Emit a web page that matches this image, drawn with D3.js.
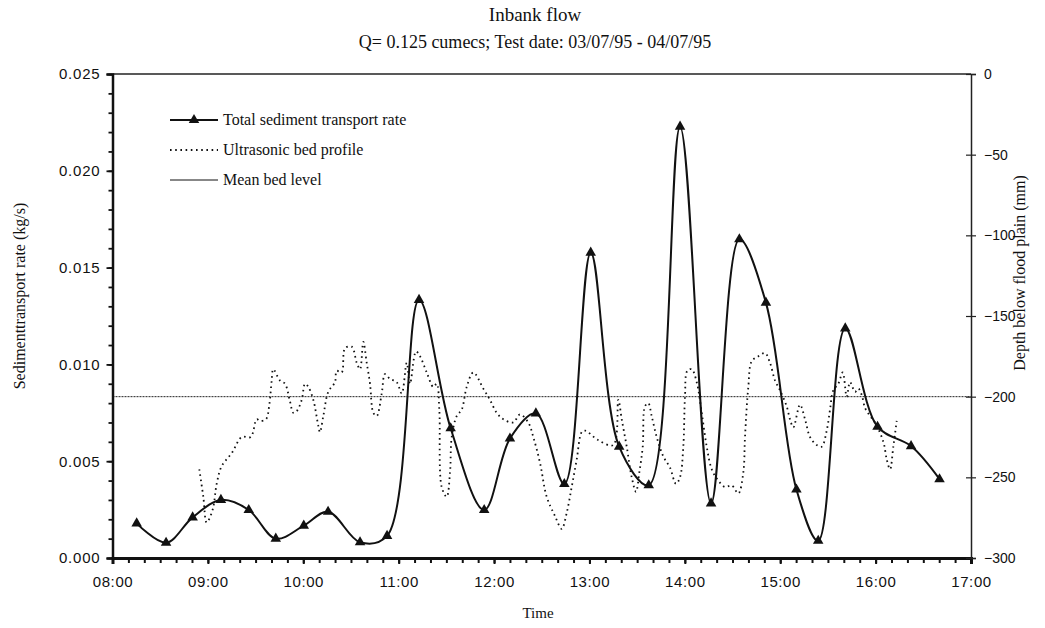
<!DOCTYPE html>
<html>
<head>
<meta charset="utf-8">
<title>Inbank flow</title>
<script src="https://d3js.org/d3.v7.min.js"></script>
<style>
  body { margin: 0; background: #fff; }
  svg text { fill: #111; }
</style>
</head>
<body>
<svg width="1045" height="628"></svg>
<script>
// Total sediment transport rate (kg/s), left axis
var sedTimes = ["08:15:12", "08:33:42", "08:50:24", "09:08:12", "09:25:42", "09:42:42",
                "10:00:18", "10:15:36", "10:35:42", "10:52:42", "11:12:48", "11:32:42",
                "11:53:48", "12:10:00", "12:26:18", "12:44:12", "13:00:48", "13:18:42",
                "13:37:18", "13:57:00", "14:16:30", "14:34:18", "14:51:00", "15:10:12",
                "15:23:54", "15:40:54", "16:01:12", "16:22:18", "16:40:12"];
var sedRate = [0.00179, 0.00079, 0.00210, 0.00300, 0.00248, 0.00100,
               0.00167, 0.00239, 0.00081, 0.00114, 0.01333, 0.00670,
               0.00248, 0.00617, 0.00747, 0.00382, 0.01577, 0.00575,
               0.00376, 0.02228, 0.00282, 0.01646, 0.01319, 0.00354,
               0.00089, 0.01186, 0.00678, 0.00578, 0.00407];

// Ultrasonic bed profile (mm below flood plain), right axis
var bedTimes = ["08:54:36", "08:57:07", "08:59:15", "09:03:01", "09:05:32", "09:08:41",
                "09:15:00", "09:21:18", "09:26:56", "09:30:42", "09:32:47", "09:36:33",
                "09:38:38", "09:40:08", "09:41:08", "09:45:21", "09:48:30", "09:51:39",
                "09:53:44", "09:55:52", "09:59:01", "10:01:06", "10:03:11", "10:06:20",
                "10:09:26", "10:10:30", "10:12:36", "10:15:44", "10:19:57", "10:21:01",
                "10:24:10", "10:26:15", "10:30:28", "10:33:37", "10:35:41", "10:37:46",
                "10:39:54", "10:41:59", "10:44:03", "10:46:11", "10:49:20", "10:51:24",
                "10:54:33", "10:58:46", "11:01:55", "11:05:04", "11:07:08", "11:10:55",
                "11:13:26", "11:17:39", "11:21:48", "11:23:56", "11:25:34", "11:27:04",
                "11:30:13", "11:32:18", "11:33:22", "11:36:31", "11:39:40", "11:42:48",
                "11:46:57", "11:53:14", "11:57:26", "12:01:39", "12:05:48", "12:12:06",
                "12:16:18", "12:21:32", "12:24:41", "12:28:54", "12:33:06", "12:38:20",
                "12:42:33", "12:45:42", "12:48:50", "12:51:59", "12:55:08", "12:57:13",
                "13:05:35", "13:15:01", "13:18:10", "13:20:18", "13:23:27", "13:26:36",
                "13:29:18", "13:31:22", "13:33:31", "13:34:56", "13:37:00", "13:39:09",
                "13:42:18", "13:46:27", "13:50:40", "13:54:26", "13:56:57", "13:59:02",
                "14:00:06", "14:01:33", "14:04:19", "14:07:28", "14:10:37", "14:13:46",
                "14:16:55", "14:21:04", "14:25:17", "14:29:30", "14:33:38", "14:36:47",
                "14:37:51", "14:39:56", "14:42:05", "14:46:14", "14:50:26", "14:53:34",
                "14:56:43", "14:59:52", "15:04:04", "15:06:09", "15:08:14", "15:12:27",
                "15:15:36", "15:18:45", "15:22:57", "15:26:06", "15:29:15", "15:31:20",
                "15:33:24", "15:36:33", "15:39:19", "15:41:50", "15:43:55", "15:47:04",
                "15:49:08", "15:51:17", "15:53:21", "15:56:30", "15:59:39", "16:04:53",
                "16:07:01", "16:09:06", "16:11:08", "16:13:16"];
var bedDepth = [-245, -262, -278, -270, -254, -243,
                -235, -225, -225, -214, -215, -214,
                -205, -190, -183, -190, -192, -203,
                -210, -209, -202, -192, -194, -202,
                -218, -222, -212, -197, -191, -184,
                -185, -170, -169, -179, -183, -166,
                -179, -192, -210, -212, -198, -186,
                -189, -191, -198, -179, -192, -172,
                -175, -185, -194, -192, -208, -256,
                -262, -247, -225, -212, -208, -194,
                -185, -195, -202, -210, -214, -216,
                -211, -216, -225, -241, -262, -274,
                -282, -272, -256, -239, -222, -221,
                -227, -230, -202, -214, -231, -250,
                -259, -247, -231, -206, -204, -212,
                -225, -237, -244, -254, -250, -231,
                -200, -184, -183, -191, -210, -231,
                -245, -252, -256, -255, -260, -247,
                -225, -194, -178, -175, -173, -179,
                -190, -196, -206, -214, -219, -205,
                -214, -225, -230, -231, -221, -208,
                -196, -192, -185, -200, -191, -197,
                -195, -199, -207, -212, -216, -228,
                -239, -245, -231, -215];

var meanBedLevel = -200;

var leftTicks = [0, 0.005, 0.010, 0.015, 0.020, 0.025];
var rightTicks = [0, -50, -100, -150, -200, -250, -300];
var timeTicks = ["08:00:00", "09:00:00", "10:00:00", "11:00:00", "12:00:00",
                 "13:00:00", "14:00:00", "15:00:00", "16:00:00", "17:00:00"];

var legendLabels = ["Total sediment transport rate", "Ultrasonic bed profile", "Mean bed level"];

var parseTime = d3.timeParse("%H:%M:%S");

var svg = d3.select("svg"),
    margin = {top: 74, right: 74, bottom: 70, left: 112.5},
    width = 1045 - margin.left - margin.right,
    height = 628 - margin.top - margin.bottom,
    g = svg.append("g").attr("transform", "translate(" + margin.left + "," + margin.top + ")");

var serif = "'Liberation Serif', 'Times New Roman', serif";
var sans = "'Liberation Sans', Arial, sans-serif";

var xScale = d3.scaleTime()
    .domain([parseTime("08:00:00"), parseTime("17:00:00")])
    .range([0, width]);

var yLeft = d3.scaleLinear().domain([0, 0.025]).range([height, 0]);
var yRight = d3.scaleLinear().domain([-300, 0]).range([height, 0]);

var sedData = sedTimes.map(function(t, i) { return {time: parseTime(t), value: sedRate[i]}; });
var bedData = bedTimes.map(function(t, i) { return {time: parseTime(t), value: bedDepth[i]}; });

// titles
svg.append("text")
    .attr("x", 535).attr("y", 21)
    .attr("text-anchor", "middle")
    .style("font-family", serif).style("font-size", "19px")
    .text("Inbank flow");
svg.append("text")
    .attr("x", 535).attr("y", 48)
    .attr("text-anchor", "middle")
    .style("font-family", serif).style("font-size", "18px")
    .text("Q= 0.125 cumecs; Test date: 03/07/95 - 04/07/95");

// top frame line
g.append("line")
    .attr("x1", 0).attr("x2", width).attr("y1", 0).attr("y2", 0)
    .attr("stroke", "#222").attr("stroke-width", 1.5);

// mean bed level
g.append("line")
    .attr("x1", 0).attr("x2", width)
    .attr("y1", yRight(meanBedLevel)).attr("y2", yRight(meanBedLevel))
    .attr("stroke", "#222").attr("stroke-width", 1)
    .attr("stroke-dasharray", "2,1");

// ultrasonic bed profile
var bedLine = d3.line()
    .x(function(d) { return xScale(d.time); })
    .y(function(d) { return yRight(d.value); })
    .curve(d3.curveCatmullRom.alpha(0.5));

g.append("path")
    .attr("fill", "none")
    .attr("stroke", "#111")
    .attr("stroke-width", 1.8)
    .attr("stroke-dasharray", "1.6,3.6")
    .attr("d", bedLine(bedData));

// sediment transport rate
var sedLine = d3.line()
    .x(function(d) { return xScale(d.time); })
    .y(function(d) { return yLeft(d.value); })
    .curve(d3.curveCatmullRom.alpha(0.5));

g.append("path")
    .attr("fill", "none")
    .attr("stroke", "#111")
    .attr("stroke-width", 2)
    .attr("d", sedLine(sedData));

var tri = d3.symbol().type(d3.symbolTriangle).size(48);
g.selectAll(".marker")
    .data(sedData)
  .enter().append("path")
    .attr("class", "marker")
    .attr("fill", "#111")
    .attr("transform", function(d) { return "translate(" + xScale(d.time) + "," + yLeft(d.value) + ")"; })
    .attr("d", tri);

// bottom axis: minor ticks every 10 min
g.append("g")
    .attr("transform", "translate(0," + height + ")")
    .call(d3.axisBottom(xScale).ticks(d3.timeMinute.every(10)).tickSize(5).tickFormat(""))
    .call(function(a) {
      a.select(".domain").remove();
      a.selectAll("line").attr("stroke", "#111").attr("stroke-width", 2);
    });

var xAxis = g.append("g")
    .attr("transform", "translate(0," + height + ")")
    .call(d3.axisBottom(xScale)
      .tickValues(timeTicks.map(parseTime))
      .tickSize(6).tickPadding(12)
      .tickFormat(d3.timeFormat("%H:%M")));
xAxis.select(".domain").attr("stroke", "#111").attr("stroke-width", 3);
xAxis.selectAll("line").attr("stroke", "#111").attr("stroke-width", 2);
xAxis.selectAll("text")
    .style("font-family", sans).style("font-size", "15px").style("letter-spacing", "0.6px");

// left axis: minor ticks every 0.001
g.append("g")
    .call(d3.axisLeft(yLeft).ticks(25).tickSize(4).tickFormat(""))
    .call(function(a) {
      a.select(".domain").remove();
      a.selectAll("line").attr("stroke", "#111").attr("stroke-width", 1.8);
    });

var yAxisL = g.append("g")
    .call(d3.axisLeft(yLeft).tickValues(leftTicks).tickSize(6).tickPadding(6)
      .tickFormat(d3.format(".3f")));
yAxisL.select(".domain").attr("stroke", "#111").attr("stroke-width", 2.5);
yAxisL.selectAll("line").attr("stroke", "#111").attr("stroke-width", 1.8);
yAxisL.selectAll("text")
    .style("font-family", sans).style("font-size", "15px").style("letter-spacing", "0.8px");

// right axis: ticks crossing the line
var yAxisR = g.append("g")
    .attr("transform", "translate(" + width + ",0)")
    .call(d3.axisRight(yRight).tickValues(rightTicks).tickSize(5).tickPadding(8)
      .tickFormat(d3.format("d")));
yAxisR.select(".domain").attr("stroke", "#222").attr("stroke-width", 1.5);
yAxisR.selectAll("line").attr("x1", -5).attr("stroke", "#222").attr("stroke-width", 1.2);
yAxisR.selectAll("text")
    .style("font-family", sans).style("font-size", "14px");

// axis titles
svg.append("text")
    .attr("transform", "translate(25," + 296 + ") rotate(-90)")
    .attr("text-anchor", "middle")
    .style("font-family", serif).style("font-size", "16px")
    .text("Sedimenttransport rate (kg/s)");
svg.append("text")
    .attr("transform", "translate(1025," + 273 + ") rotate(-90)")
    .attr("text-anchor", "middle")
    .style("font-family", serif).style("font-size", "16px")
    .text("Depth below flood plain (mm)");
svg.append("text")
    .attr("x", 538).attr("y", 618)
    .attr("text-anchor", "middle")
    .style("font-family", serif).style("font-size", "15px")
    .text("Time");

// legend
var legend = svg.append("g").attr("transform", "translate(170,120)");
legendLabels.forEach(function(label, i) {
  var row = legend.append("g").attr("transform", "translate(0," + (i * 30) + ")");
  var ln = row.append("line")
      .attr("x1", 0).attr("x2", 48).attr("y1", 0).attr("y2", 0)
      .attr("stroke", "#111");
  if (i === 0) {
    ln.attr("stroke-width", 2);
    row.append("path").attr("d", tri).attr("fill", "#111").attr("transform", "translate(24,0)");
  } else if (i === 1) {
    ln.attr("stroke-width", 1.8).attr("stroke-dasharray", "1.6,3.6");
  } else {
    ln.attr("stroke-width", 1);
  }
  row.append("text")
      .attr("x", 53).attr("y", 5)
      .style("font-family", serif).style("font-size", "16px")
      .text(label);
});
</script>
</body>
</html>
